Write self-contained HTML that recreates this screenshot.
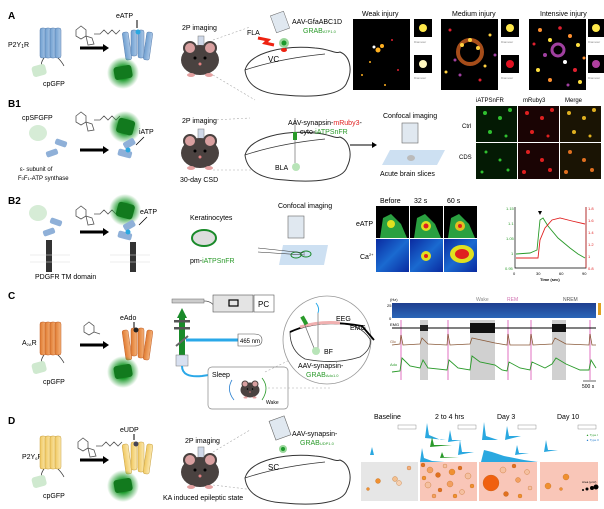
<!DOCTYPE html>
<html><head><meta charset="utf-8"><style>
html,body{margin:0;padding:0;background:#fff;}
svg{display:block;font-family:"Liberation Sans",sans-serif;}
</style></head><body>
<svg width="604" height="509" viewBox="0 0 604 509" xmlns="http://www.w3.org/2000/svg">
<defs>
<radialGradient id="glow"><stop offset="0.4" stop-color="#1a9a2a"/><stop offset="1" stop-color="#1a9a2a" stop-opacity="0"/></radialGradient>
<linearGradient id="blue" x1="0" x2="1"><stop offset="0" stop-color="#6f9fd0"/><stop offset="1" stop-color="#a9c6e6"/></linearGradient>
<linearGradient id="orng" x1="0" x2="1"><stop offset="0" stop-color="#e07a30"/><stop offset="1" stop-color="#f4b27a"/></linearGradient>
<linearGradient id="yel" x1="0" x2="1"><stop offset="0" stop-color="#f0c860"/><stop offset="1" stop-color="#fbe8b0"/></linearGradient>
<linearGradient id="spec" x1="0" y1="0" x2="0" y2="1"><stop offset="0" stop-color="#1f3f8f"/><stop offset="1" stop-color="#2a66b8"/></linearGradient>
<linearGradient id="heat" x1="0" y1="0" x2="1" y2="1"><stop offset="0" stop-color="#0a2aa0"/><stop offset="0.5" stop-color="#1a6ad0"/><stop offset="1" stop-color="#0a2aa0"/></linearGradient>
<g id="mouse"><ellipse cx="0" cy="0" rx="19" ry="15" fill="#4a4240"/><circle cx="-10" cy="-12" r="6" fill="#d9a0a0" stroke="#4a4240" stroke-width="2"/><circle cx="10" cy="-12" r="6" fill="#d9a0a0" stroke="#4a4240" stroke-width="2"/><circle cx="-5" cy="-2" r="1.5" fill="#000"/><circle cx="5" cy="-2" r="1.5" fill="#000"/><circle cx="0" cy="4" r="1.5" fill="#e08080"/><ellipse cx="-9" cy="15" rx="4" ry="2" fill="#e4a0a0"/><ellipse cx="9" cy="15" rx="4" ry="2" fill="#e4a0a0"/></g>
<g id="brain"><path d="M0,30 C5,12 40,5 70,8 C85,9 90,14 95,12 C105,16 108,30 102,42 C98,55 70,58 40,55 C20,54 2,48 0,30 Z" fill="#fff" stroke="#333" stroke-width="1"/><path d="M0,30 C30,20 60,16 80,14" fill="none" stroke="#333" stroke-width="0.8"/></g>
<g id="mol" fill="none" stroke="#555" stroke-width="0.8"><path d="M0,8 l5,-4 l5,4 l0,6 l-5,3 l-5,-3z M10,14 l6,2 l2,6 l-6,1z"/><path d="M18,12 l6,0 l4,-4 l4,4 l4,-4 l4,4 l4,-4"/></g>
</defs>
<rect width="604" height="509" fill="#fff"/>

<!-- ===== A ===== -->
<text x="8" y="19" font-size="10" font-weight="bold">A</text>
<text x="8" y="47" font-size="7">P2Y<tspan font-size="5" dy="1">1</tspan><tspan dy="-1">R</tspan></text>
<g fill="url(#blue)" stroke="#5a7fae" stroke-width="0.5">
<rect x="40" y="28" width="6" height="30" rx="2"/><rect x="45" y="28" width="6" height="30" rx="2"/><rect x="50" y="28" width="6" height="30" rx="2"/><rect x="55" y="28" width="6" height="30" rx="2"/>
</g>
<path d="M44,58 q-4,5 -2,10 M58,58 q4,4 6,8" stroke="#333" fill="none" stroke-width="0.7"/>
<rect x="32" y="65" width="14" height="11" rx="3" fill="#cfe9cf" transform="rotate(-15 39 70)"/>
<text x="43" y="86" font-size="7">cpGFP</text>
<use href="#mol" x="76" y="22"/>
<path d="M80,48 h24" stroke="#000" stroke-width="3"/><path d="M103,44 l6,4 l-6,4z" fill="#000"/>
<text x="116" y="18" font-size="7">eATP</text><path d="M137,20 v8" stroke="#000"/>
<g fill="url(#blue)" stroke="#5a7fae" stroke-width="0.5">
<rect x="124" y="32" width="6" height="28" rx="2" transform="rotate(-8 127 46)"/><rect x="131" y="30" width="6" height="26" rx="2"/><rect x="138" y="30" width="6" height="28" rx="2"/><rect x="145" y="32" width="6" height="28" rx="2" transform="rotate(8 148 46)"/>
</g>
<circle cx="138" cy="32" r="2.5" fill="#2aa8e0"/>
<circle cx="123" cy="73" r="16" fill="url(#glow)"/>
<rect x="114" y="66" width="18" height="13" rx="3" fill="#127a1e" transform="rotate(-10 123 72)"/>
<text x="182" y="30" font-size="7">2P imaging</text>
<rect x="198" y="36" width="6" height="12" fill="#cfd8e8" stroke="#777" stroke-width="0.5"/>
<use href="#mouse" x="200" y="60"/>
<path d="M213,40 L250,27 M213,75 L255,100" stroke="#aaa" stroke-dasharray="2,2" stroke-width="0.6"/>
<use href="#brain" x="245" y="40"/>
<rect x="273" y="13" width="14" height="18" fill="#e0e8f0" stroke="#666" stroke-width="0.5" transform="rotate(-20 280 22)"/>
<text x="247" y="35" font-size="7">FLA</text>
<path d="M258,38 l10,2 l-3,3 l9,2" stroke="#e21" stroke-width="3" fill="none"/>
<circle cx="284" cy="43" r="5" fill="#9ad69a"/><circle cx="284" cy="43" r="2.5" fill="#1a9a2a"/>
<ellipse cx="284" cy="50" rx="3" ry="2" fill="#e21"/>
<text x="268" y="62" font-size="8">VC</text>
<text x="292" y="24" font-size="7">AAV-GfaABC1D</text>
<text x="303" y="33" font-size="7" fill="#2a9a2a">GRAB<tspan font-size="4">ATP1.0</tspan></text>
<!-- injury images -->
<text x="362" y="16" font-size="7">Weak injury</text>
<text x="452" y="16" font-size="7">Medium injury</text>
<text x="540" y="16" font-size="7">Intensive injury</text>
<rect x="353" y="19" width="57" height="71" fill="#000"/>
<rect x="414" y="19" width="18" height="18" fill="#000"/><rect x="414" y="55" width="18" height="18" fill="#000"/>
<rect x="441" y="19" width="57" height="71" fill="#000"/>
<rect x="501" y="19" width="18" height="18" fill="#000"/><rect x="501" y="55" width="18" height="18" fill="#000"/>
<rect x="529" y="19" width="57" height="71" fill="#000"/>
<rect x="588" y="19" width="16" height="18" fill="#000"/><rect x="588" y="55" width="16" height="18" fill="#000"/>
<g font-size="3" fill="#888"><text x="414" y="43">Diameter</text><text x="414" y="79">Diameter</text><text x="501" y="43">Diameter</text><text x="501" y="79">Diameter</text><text x="588" y="43">Diameter</text><text x="588" y="79">Diameter</text></g>
<circle cx="423" cy="28" r="4" fill="#ffe84a"/><circle cx="423" cy="64" r="4" fill="#fff8c0"/>
<circle cx="510" cy="28" r="4" fill="#ffe84a"/><circle cx="510" cy="64" r="4" fill="#e01020"/>
<circle cx="596" cy="28" r="4" fill="#ffe84a"/><circle cx="596" cy="64" r="4" fill="#b040a0"/>
<g fill="#ffb020"><circle cx="378" cy="50" r="2.5"/><circle cx="382" cy="46" r="2"/><circle cx="374" cy="47" r="1.5" fill="#fff"/><circle cx="370" cy="62" r="1"/><circle cx="392" cy="40" r="1" fill="#e02030"/><circle cx="362" cy="75" r="1"/><circle cx="398" cy="70" r="1" fill="#e02030"/><circle cx="385" cy="85" r="1"/></g>
<circle cx="470" cy="52" r="12" fill="none" stroke="#d06020" stroke-width="4" opacity="0.8"/>
<g fill="#ffd040"><circle cx="462" cy="45" r="2"/><circle cx="478" cy="48" r="2"/><circle cx="470" cy="40" r="2"/><circle cx="455" cy="60" r="1.5" fill="#a040a0"/><circle cx="485" cy="66" r="1.5"/><circle cx="450" cy="30" r="1.5" fill="#e02030"/><circle cx="490" cy="35" r="1.5"/><circle cx="460" cy="75" r="1.5" fill="#a040a0"/><circle cx="480" cy="80" r="1.5" fill="#e02030"/><circle cx="495" cy="55" r="1.5" fill="#a040a0"/><circle cx="446" cy="72" r="1.5"/></g>
<g fill="#ff9030"><circle cx="540" cy="30" r="2"/><circle cx="550" cy="40" r="2" fill="#ffe040"/><circle cx="560" cy="28" r="1.8" fill="#e02030"/><circle cx="570" cy="36" r="2"/><circle cx="578" cy="45" r="2" fill="#ffe040"/><circle cx="545" cy="55" r="2" fill="#a040a0"/><circle cx="558" cy="50" r="6" fill="none" stroke="#a040a0" stroke-width="3"/><circle cx="565" cy="62" r="2" fill="#fff"/><circle cx="575" cy="70" r="2" fill="#e02030"/><circle cx="538" cy="70" r="2" fill="#ffe040"/><circle cx="550" cy="80" r="2"/><circle cx="580" cy="82" r="2" fill="#ffe040"/><circle cx="534" cy="44" r="1.5" fill="#e02030"/><circle cx="568" cy="85" r="1.5" fill="#a040a0"/><circle cx="584" cy="58" r="1.5"/></g>

<!-- ===== B1 ===== -->
<text x="8" y="107" font-size="10" font-weight="bold">B1</text>
<text x="22" y="120" font-size="7">cpSFGFP</text>
<ellipse cx="38" cy="133" rx="9" ry="8" fill="#d6ecd6"/>
<rect x="55" y="140" width="12" height="6" rx="2" fill="#8fb0d8" transform="rotate(20 61 143)"/>
<rect x="46" y="150" width="12" height="6" rx="2" fill="#8fb0d8" transform="rotate(-20 52 153)"/>
<text x="20" y="171" font-size="6">ε- subunit of</text>
<text x="18" y="180" font-size="6">F<tspan font-size="4">0</tspan>F<tspan font-size="4">1</tspan>-ATP synthase</text>
<use href="#mol" x="76" y="108"/>
<path d="M80,150 h24" stroke="#000" stroke-width="3"/><path d="M103,146 l6,4 l-6,4z" fill="#000"/>
<circle cx="125" cy="127" r="16" fill="url(#glow)"/>
<rect x="117" y="119" width="17" height="15" rx="3" fill="#127a1e" transform="rotate(15 125 127)"/>
<rect x="123" y="140" width="12" height="7" rx="2" fill="#8fb0d8" transform="rotate(-30 129 143)"/>
<rect x="118" y="150" width="14" height="7" rx="2" fill="#8fb0d8" transform="rotate(15 125 153)"/>
<circle cx="128" cy="150" r="2.5" fill="#2aa8e0"/>
<text x="139" y="134" font-size="7">iATP</text><path d="M144,137 l-8,8" stroke="#000" stroke-width="0.8"/>
<text x="182" y="123" font-size="7">2P imaging</text>
<rect x="198" y="129" width="6" height="12" fill="#cfd8e8" stroke="#777" stroke-width="0.5"/>
<use href="#mouse" x="200" y="153"/>
<text x="180" y="182" font-size="7">30-day CSD</text>
<path d="M213,120 L250,118 M213,170 L255,170" stroke="#aaa" stroke-dasharray="2,2" stroke-width="0.6"/>
<use href="#brain" x="245" y="125"/>
<path d="M295,118 v45" stroke="#555" stroke-width="0.6"/><rect x="293" y="132" width="4" height="8" fill="#2a9a2a"/>
<circle cx="296" cy="167" r="4" fill="#b8e4b8"/>
<text x="275" y="170" font-size="7">BLA</text>
<text x="288" y="125" font-size="7">AAV-synapsin-<tspan fill="#e02020">mRuby3</tspan>-</text>
<text x="300" y="134" font-size="7">cyto-<tspan fill="#2a9a2a">iATPSnFR</tspan></text>
<path d="M350,145 h22" stroke="#000" stroke-width="1"/><path d="M372,142 l5,3 l-5,3z" fill="#000"/>
<text x="383" y="118" font-size="7">Confocal imaging</text>
<rect x="402" y="123" width="16" height="20" fill="#e0e8f0" stroke="#666" stroke-width="0.6"/>
<path d="M390,150 h55 l-8,15 h-55z" fill="#cde0f2"/>
<ellipse cx="411" cy="158" rx="4" ry="3" fill="#bbb"/>
<text x="380" y="176" font-size="7">Acute brain slices</text>
<text x="476" y="102" font-size="6">iATPSnFR</text><text x="523" y="102" font-size="6">mRuby3</text><text x="565" y="102" font-size="6">Merge</text>
<text x="462" y="128" font-size="6">Ctrl</text><text x="459" y="159" font-size="6">CDS</text>
<rect x="476" y="106" width="41" height="36" fill="#041a04"/><rect x="518" y="106" width="41" height="36" fill="#1a0404"/><rect x="560" y="106" width="41" height="36" fill="#1a1404"/>
<rect x="476" y="143" width="41" height="36" fill="#041a04"/><rect x="518" y="143" width="41" height="36" fill="#1a0404"/><rect x="560" y="143" width="41" height="36" fill="#1a1404"/>
<g fill="#30c030"><circle cx="485" cy="113" r="2"/><circle cx="500" cy="118" r="2"/><circle cx="510" cy="110" r="2"/><circle cx="490" cy="132" r="2"/><circle cx="506" cy="136" r="1.5"/><circle cx="486" cy="152" r="1.5"/><circle cx="500" cy="160" r="1.5"/><circle cx="508" cy="170" r="1.5"/><circle cx="482" cy="172" r="1.5"/></g>
<g fill="#e02020"><circle cx="527" cy="113" r="2"/><circle cx="542" cy="118" r="2"/><circle cx="552" cy="110" r="2"/><circle cx="532" cy="132" r="2"/><circle cx="548" cy="136" r="1.5"/><circle cx="528" cy="152" r="2"/><circle cx="542" cy="160" r="2"/><circle cx="550" cy="170" r="2"/><circle cx="524" cy="172" r="2"/></g>
<g fill="#e0b020"><circle cx="569" cy="113" r="2"/><circle cx="584" cy="118" r="2"/><circle cx="594" cy="110" r="2"/><circle cx="574" cy="132" r="2"/><circle cx="590" cy="136" r="1.5"/></g>
<g fill="#e07020"><circle cx="570" cy="152" r="2"/><circle cx="584" cy="160" r="2"/><circle cx="592" cy="170" r="2"/><circle cx="566" cy="172" r="2"/></g>

<!-- ===== B2 ===== -->
<text x="8" y="204" font-size="10" font-weight="bold">B2</text>
<ellipse cx="38" cy="213" rx="9" ry="8" fill="#d6ecd6"/>
<rect x="50" y="219" width="12" height="6" rx="2" fill="#8fb0d8" transform="rotate(20 56 222)"/>
<rect x="43" y="229" width="12" height="6" rx="2" fill="#8fb0d8" transform="rotate(-20 49 232)"/>
<rect x="46" y="240" width="6" height="32" fill="#333"/><path d="M30,255 h40 M30,262 h40" stroke="#ddd" stroke-width="0.6"/>
<use href="#mol" x="76" y="202"/>
<path d="M80,232 h24" stroke="#000" stroke-width="3"/><path d="M103,228 l6,4 l-6,4z" fill="#000"/>
<circle cx="125" cy="210" r="16" fill="url(#glow)"/>
<rect x="117" y="203" width="17" height="15" rx="3" fill="#127a1e" transform="rotate(15 125 210)"/>
<rect x="123" y="222" width="12" height="7" rx="2" fill="#8fb0d8" transform="rotate(-30 129 225)"/>
<rect x="118" y="232" width="14" height="7" rx="2" fill="#8fb0d8" transform="rotate(15 125 235)"/>
<circle cx="128" cy="232" r="2.5" fill="#2aa8e0"/>
<rect x="130" y="242" width="6" height="30" fill="#333"/><path d="M110,255 h40 M110,262 h40" stroke="#ddd" stroke-width="0.6"/>
<text x="140" y="214" font-size="7">eATP</text><path d="M147,217 l-8,8" stroke="#000" stroke-width="0.8"/>
<text x="35" y="279" font-size="7">PDGFR TM domain</text>
<text x="190" y="220" font-size="7">Keratinocytes</text>
<ellipse cx="204" cy="238" rx="12" ry="8" fill="#ddd" stroke="#1a8a2a" stroke-width="2"/>
<text x="190" y="263" font-size="7">pm-<tspan fill="#2a9a2a">iATPSnFR</tspan></text>
<text x="278" y="208" font-size="7">Confocal imaging</text>
<rect x="288" y="216" width="16" height="22" fill="#e0e8f0" stroke="#666" stroke-width="0.6"/>
<path d="M283,245 h45 l-4,20 h-45z" fill="#cde0f2"/>
<ellipse cx="296" cy="255" rx="5" ry="3" fill="none" stroke="#1a8a2a"/><ellipse cx="306" cy="254" rx="5" ry="3" fill="none" stroke="#1a8a2a"/>
<path d="M258,248 L305,253 M258,252 L305,255" stroke="#333" stroke-width="0.6"/>
<text x="380" y="203" font-size="7">Before</text><text x="414" y="203" font-size="7">32 s</text><text x="447" y="203" font-size="7">60 s</text>
<text x="356" y="226" font-size="7">eATP</text><text x="360" y="259" font-size="7">Ca<tspan font-size="4" dy="-3">2+</tspan></text>
<g>
<rect x="376" y="206" width="33" height="32" fill="#000"/><rect x="410" y="206" width="33" height="32" fill="#000"/><rect x="444" y="206" width="33" height="32" fill="#000"/>
<path d="M380,238 l3,-20 l8,-4 l10,10 l6,14z" fill="#2aa040"/><circle cx="391" cy="224" r="4" fill="#e0e020"/>
<path d="M414,238 l3,-20 l8,-4 l10,10 l6,14z" fill="#2aa040"/><circle cx="426" cy="226" r="5" fill="#e0e020"/><circle cx="426" cy="226" r="2.5" fill="#e02020"/>
<path d="M448,238 l3,-20 l8,-4 l10,10 l6,14z" fill="#2aa040"/><circle cx="460" cy="226" r="5" fill="#e0c020"/><circle cx="460" cy="226" r="2" fill="#e02020"/>
<rect x="376" y="239" width="33" height="33" fill="url(#heat)"/><rect x="410" y="239" width="33" height="33" fill="url(#heat)"/><rect x="444" y="239" width="33" height="33" fill="url(#heat)"/>
<circle cx="426" cy="256" r="5" fill="#e0e020"/><circle cx="426" cy="256" r="2" fill="#e02020"/>
<ellipse cx="462" cy="254" rx="12" ry="9" fill="#e0e020"/><ellipse cx="462" cy="254" rx="7" ry="5" fill="#e02020"/>
</g>
<!-- graph -->
<path d="M515,207 V268 H586 V207" fill="none" stroke="#000" stroke-width="0.7"/>
<path d="M586,207 V268" stroke="#e02020" stroke-width="0.7"/>
<g font-size="4" fill="#2a9a2a"><text x="506" y="210">1.15</text><text x="508" y="225">1.1</text><text x="506" y="240">1.05</text><text x="511" y="255">1</text><text x="505" y="270">0.95</text></g>
<g font-size="4" fill="#e02020"><text x="588" y="210">1.8</text><text x="588" y="222">1.6</text><text x="588" y="234">1.4</text><text x="588" y="246">1.2</text><text x="588" y="258">1</text><text x="588" y="270">0.8</text></g>
<g font-size="4"><text x="513" y="275">0</text><text x="536" y="275">30</text><text x="559" y="275">60</text><text x="582" y="275">90</text><text x="540" y="281" font-weight="bold">Time (sec)</text></g>
<path d="M538,211 l4,0 l-2,4z" fill="#000"/>
<path d="M516,254 L530,253 L537,250 L540,220 L543,218 L548,226 L558,238 L570,248 L578,254 L585,258" fill="none" stroke="#2a9a2a" stroke-width="0.9"/>
<path d="M516,258 L538,258 L540,240 L545,228 L552,220 L560,218 L572,221 L585,224" fill="none" stroke="#e02020" stroke-width="0.9"/>

<!-- ===== C ===== -->
<text x="8" y="299" font-size="10" font-weight="bold">C</text>
<text x="22" y="345" font-size="7">A<tspan font-size="4" dy="1">2A</tspan><tspan dy="-1">R</tspan></text>
<g fill="url(#orng)" stroke="#c0602a" stroke-width="0.5">
<rect x="40" y="322" width="6" height="33" rx="2"/><rect x="45" y="322" width="6" height="33" rx="2"/><rect x="50" y="322" width="6" height="33" rx="2"/><rect x="55" y="322" width="6" height="33" rx="2"/>
</g>
<path d="M44,355 q-4,5 -2,10 M58,355 q4,4 6,8" stroke="#333" fill="none" stroke-width="0.7"/>
<rect x="32" y="362" width="14" height="11" rx="3" fill="#cfe9cf" transform="rotate(-15 39 367)"/>
<text x="43" y="384" font-size="7">cpGFP</text>
<path d="M84,326 l5,-4 l5,4 l0,6 l-5,3 l-5,-3z M94,332 l6,2" fill="none" stroke="#555" stroke-width="0.8"/>
<path d="M80,345 h24" stroke="#000" stroke-width="3"/><path d="M103,341 l6,4 l-6,4z" fill="#000"/>
<text x="120" y="320" font-size="7">eAdo</text><path d="M134,322 v6" stroke="#000"/>
<g fill="url(#orng)" stroke="#c0602a" stroke-width="0.5">
<rect x="124" y="330" width="6" height="30" rx="2" transform="rotate(-8 127 345)"/><rect x="131" y="328" width="6" height="28" rx="2"/><rect x="138" y="328" width="6" height="30" rx="2"/><rect x="145" y="330" width="6" height="30" rx="2" transform="rotate(8 148 345)"/>
</g>
<circle cx="136" cy="330" r="2.5" fill="#222"/>
<circle cx="123" cy="372" r="16" fill="url(#glow)"/>
<rect x="114" y="365" width="18" height="13" rx="3" fill="#127a1e" transform="rotate(-10 123 371)"/>
<!-- setup -->
<rect x="172" y="299" width="32" height="4" fill="#ccc" stroke="#666" stroke-width="0.5"/>
<path d="M204,301 q10,0 12,10 h8" fill="none" stroke="#555" stroke-width="0.7"/>
<rect x="213" y="295" width="40" height="17" fill="#e4e4e4" stroke="#555" stroke-width="0.6"/>
<rect x="229" y="300" width="9" height="6" fill="none" stroke="#000" stroke-width="1.2"/>
<rect x="254" y="295" width="20" height="17" fill="#fff" stroke="#555" stroke-width="0.6"/><text x="258" y="307" font-size="8">PC</text>
<path d="M177,318 l5,-10 l5,10z" fill="#1a8a2a"/><rect x="179" y="315" width="6" height="40" fill="#1a8a2a"/>
<rect x="174" y="320" width="16" height="2.5" fill="#555"/><rect x="174" y="327" width="16" height="2.5" fill="#555"/>
<path d="M176,346 l12,-10" stroke="#666" stroke-width="2"/>
<path d="M186,340 H238" stroke="#2aa8e8" stroke-width="3"/>
<path d="M238,334 h16 q8,0 8,6 q0,6 -8,6 h-16z" fill="#fff" stroke="#555" stroke-width="0.6"/><text x="240" y="343" font-size="6">465 nm</text>
<rect x="176" y="355" width="12" height="11" fill="#d8e0f0" stroke="#777" stroke-width="0.5"/>
<path d="M182,366 q0,12 20,10 q40,-6 55,-8 q8,0 8,10" fill="none" stroke="#2aa8e8" stroke-width="2"/>
<rect x="208" y="367" width="80" height="42" rx="4" fill="#fff" stroke="#888" stroke-width="0.7"/>
<text x="212" y="377" font-size="7">Sleep</text><text x="266" y="404" font-size="5">Wake</text>
<use href="#mouse" x="250" y="390" transform="translate(125,195) scale(0.5)"/>
<path d="M232,380 q-6,10 2,20" fill="none" stroke="#2a80d0" stroke-width="0.8"/><path d="M262,378 q8,10 0,22" fill="none" stroke="#2a9a2a" stroke-width="0.8"/>
<path d="M268,388 H330 M265,372 L300,355" stroke="#aaa" stroke-dasharray="2,2" stroke-width="0.6"/>
<circle cx="327" cy="340" r="44" fill="#fff" stroke="#999" stroke-width="0.8"/>
<path d="M290,332 q20,-10 50,-8 q20,0 30,15 q2,10 -10,18 q-25,8 -55,2 q-15,-8 -15,-27z" fill="#fff" stroke="#333" stroke-width="0.8"/>
<path d="M290,332 q30,-14 72,-6 l12,14" fill="none" stroke="#000" stroke-width="1.8"/>
<path d="M300,327 q20,-6 40,-4" fill="none" stroke="#f0b0b0" stroke-width="3"/>
<path d="M316,303 q4,5 2,10 v38" fill="none" stroke="#2aa8e8" stroke-width="1"/><path d="M318,313 v40" stroke="#999"/>
<path d="M302,318 l12,30" stroke="#666" stroke-width="0.7"/><rect x="302" y="316" width="4" height="9" fill="#2a9a2a" transform="rotate(-30 304 320)"/>
<circle cx="316" cy="351" r="4" fill="#b8e4b8"/>
<text x="324" y="354" font-size="7">BF</text>
<text x="336" y="321" font-size="7">EEG</text><text x="350" y="330" font-size="7">EMG</text>
<text x="298" y="368" font-size="7">AAV-synapsin-</text>
<text x="306" y="377" font-size="7" fill="#2a9a2a">GRAB<tspan font-size="4">Ado1.0</tspan></text>
<!-- traces -->
<text x="390" y="301" font-size="4">(Hz)</text><text x="387" y="307" font-size="4">25</text><text x="389" y="320" font-size="4">0</text>
<text x="476" y="301" font-size="5" fill="#888">Wake</text><text x="507" y="301" font-size="5" fill="#d070b0">REM</text><text x="563" y="301" font-size="5" fill="#555">NREM</text>
<rect x="392" y="303" width="204" height="15" fill="url(#spec)"/>
<rect x="598" y="303" width="3" height="12" fill="#e0a020"/>
<g fill="#d0d0d0"><rect x="420" y="320" width="8" height="60"/><rect x="470" y="320" width="25" height="60"/><rect x="552" y="320" width="14" height="60"/></g>
<g fill="#f0b8e0"><rect x="400" y="320" width="2" height="60"/><rect x="447" y="320" width="2" height="60"/><rect x="507" y="320" width="2" height="60"/><rect x="530" y="320" width="2" height="60"/><rect x="589" y="320" width="2" height="60"/></g>
<text x="390" y="326" font-size="4">EMG</text><text x="390" y="343" font-size="4" fill="#8a5a3a">Glc</text><text x="390" y="366" font-size="4" fill="#2a9a2a">Ado</text>
<path d="M392,328 H596" stroke="#000" stroke-width="1"/>
<rect x="420" y="325" width="8" height="6" fill="#222"/><rect x="470" y="323" width="25" height="10" fill="#111"/><rect x="552" y="324" width="14" height="8" fill="#111"/>
<path d="M392,345 L400,344 L401,335 L403,345 L420,344 L422,338 L428,344 L447,345 L448,334 L450,345 L470,344 L472,338 L495,343 L507,345 L508,334 L510,345 L530,345 L531,334 L533,345 L552,344 L555,338 L566,344 L589,345 L590,334 L592,345 L596,345" fill="none" stroke="#8a5a3a" stroke-width="0.8"/>
<path d="M392,372 L400,371 L402,358 L410,366 L420,368 L423,360 L428,368 L447,370 L449,360 L458,368 L470,370 L472,356 L480,362 L495,365 L502,370 L507,371 L509,362 L520,368 L530,370 L532,362 L545,368 L552,364 L556,358 L566,364 L580,370 L589,370 L591,360 L596,368" fill="none" stroke="#2a9a2a" stroke-width="0.9"/>
<path d="M583,381 H596" stroke="#000" stroke-width="0.6"/><text x="582" y="388" font-size="5">500 s</text>

<!-- ===== D ===== -->
<text x="8" y="424" font-size="10" font-weight="bold">D</text>
<text x="22" y="459" font-size="7">P2Y<tspan font-size="4" dy="1">6</tspan><tspan dy="-1">R</tspan></text>
<g fill="url(#yel)" stroke="#c8a040" stroke-width="0.5">
<rect x="40" y="436" width="6" height="33" rx="2"/><rect x="45" y="436" width="6" height="33" rx="2"/><rect x="50" y="436" width="6" height="33" rx="2"/><rect x="55" y="436" width="6" height="33" rx="2"/>
</g>
<path d="M44,469 q-4,5 -2,10 M58,469 q4,4 6,8" stroke="#333" fill="none" stroke-width="0.7"/>
<rect x="32" y="476" width="14" height="11" rx="3" fill="#cfe9cf" transform="rotate(-15 39 481)"/>
<text x="43" y="498" font-size="7">cpGFP</text>
<use href="#mol" x="78" y="434"/>
<path d="M80,460 h24" stroke="#000" stroke-width="3"/><path d="M103,456 l6,4 l-6,4z" fill="#000"/>
<text x="120" y="432" font-size="7">eUDP</text><path d="M134,434 v6" stroke="#000"/>
<g fill="url(#yel)" stroke="#c8a040" stroke-width="0.5">
<rect x="124" y="444" width="6" height="30" rx="2" transform="rotate(-8 127 459)"/><rect x="131" y="442" width="6" height="28" rx="2"/><rect x="138" y="442" width="6" height="30" rx="2"/><rect x="145" y="444" width="6" height="30" rx="2" transform="rotate(8 148 459)"/>
</g>
<circle cx="136" cy="444" r="2.5" fill="#445"/>
<circle cx="123" cy="486" r="16" fill="url(#glow)"/>
<rect x="114" y="479" width="18" height="13" rx="3" fill="#127a1e" transform="rotate(-10 123 485)"/>
<text x="185" y="443" font-size="7">2P imaging</text>
<rect x="198" y="447" width="6" height="12" fill="#cfd8e8" stroke="#777" stroke-width="0.5"/>
<use href="#mouse" x="200" y="472"/>
<text x="163" y="500" font-size="7">KA induced epileptic state</text>
<path d="M213,452 L250,430 M213,485 L255,490" stroke="#aaa" stroke-dasharray="2,2" stroke-width="0.6"/>
<use href="#brain" x="245" y="448"/>
<rect x="272" y="418" width="16" height="20" fill="#e0e8f0" stroke="#666" stroke-width="0.6" transform="rotate(-20 280 428)"/>
<circle cx="283" cy="449" r="4" fill="#9ad69a"/><circle cx="283" cy="449" r="2" fill="#1a9a2a"/>
<text x="268" y="470" font-size="8">SC</text>
<text x="292" y="436" font-size="7">AAV-synapsin-</text>
<text x="300" y="445" font-size="7" fill="#2a9a2a">GRAB<tspan font-size="4">UDP1.0</tspan></text>
<text x="374" y="419" font-size="7">Baseline</text><text x="435" y="419" font-size="7">2 to 4 hrs</text><text x="497" y="419" font-size="7">Day 3</text><text x="557" y="419" font-size="7">Day 10</text>
<g fill="#fff" stroke="#777" stroke-width="0.4"><rect x="398" y="425" width="18" height="4"/><rect x="458" y="425" width="18" height="4"/><rect x="518" y="425" width="18" height="4"/><rect x="578" y="425" width="18" height="4"/></g>
<g fill="#2aa8e0">
<path d="M370,455 l2,-8 l2,8 h10z"/>
<path d="M425,438 l2,-15 l2,12 l12,5 h5z"/><path d="M448,442 l2,-12 l2,10 h10z"/>
<path d="M420,462 l2,-14 l2,10 l8,3 l25,2 h15z"/><path d="M458,455 l2,-15 l2,12 h12z"/>
<path d="M482,440 l2,-18 l2,14 l12,4z"/><path d="M505,440 l2,-14 l2,10 h12z"/>
<path d="M481,462 l3,-12 l8,2 l12,4 l20,4 l14,2z"/><path d="M515,455 l2,-10 l2,8 h10z"/>
<path d="M544,452 l2,-12 l2,10 h10z"/>
</g>
<g fill="#2a9a2a"><path d="M430,447 l2,-10 l2,8 h18z"/><path d="M440,458 l2,-6 l2,5 h15z"/></g>
<text x="586" y="436" font-size="3" fill="#2a9a2a">▲ Type I</text><text x="586" y="441" font-size="3" fill="#2a80d0">▲ Type II</text>
<rect x="361" y="462" width="57" height="39" fill="#e6e6e6"/>
<rect x="420" y="462" width="57" height="39" fill="#f9c6b8"/>
<rect x="479" y="462" width="58" height="39" fill="#f9c6b8"/>
<rect x="540" y="462" width="58" height="39" fill="#f9c6b8"/>
<g stroke="#b86010" stroke-width="0.3">
<circle cx="378" cy="481" r="2.5" fill="#f09030"/><circle cx="395" cy="479" r="2.5" fill="#f3c090"/><circle cx="399" cy="483" r="2.5" fill="#f7d0b0"/><circle cx="409" cy="468" r="2" fill="#f3b080"/><circle cx="368" cy="489" r="1.5" fill="#f09030"/>
<circle cx="423" cy="465" r="2" fill="#e07020"/><circle cx="430" cy="470" r="3" fill="#f3a060"/><circle cx="438" cy="475" r="2.5" fill="#e07020"/><circle cx="445" cy="466" r="2" fill="#f5c0a0"/><circle cx="452" cy="472" r="3" fill="#f09030"/><circle cx="460" cy="468" r="2" fill="#e07020"/><circle cx="468" cy="476" r="3" fill="#f5c0a0"/><circle cx="428" cy="485" r="3" fill="#f5c0a0"/><circle cx="440" cy="490" r="2" fill="#e07020"/><circle cx="450" cy="484" r="3" fill="#f3a060"/><circle cx="462" cy="492" r="2.5" fill="#f5c0a0"/><circle cx="472" cy="486" r="2" fill="#f09030"/><circle cx="434" cy="496" r="2" fill="#f3a060"/><circle cx="455" cy="496" r="2" fill="#f09030"/><circle cx="424" cy="478" r="2" fill="#f09030"/>
<circle cx="491" cy="483" r="8" fill="#f06010"/><circle cx="503" cy="470" r="3" fill="#f5c0a0"/><circle cx="514" cy="466" r="2" fill="#e07020"/><circle cx="518" cy="480" r="2.5" fill="#f3a060"/><circle cx="527" cy="472" r="2.5" fill="#f5c0a0"/><circle cx="506" cy="494" r="2.5" fill="#e07020"/><circle cx="530" cy="488" r="2" fill="#f5c0a0"/><circle cx="520" cy="496" r="2" fill="#f09030"/>
<circle cx="566" cy="477" r="3" fill="#f09030"/><circle cx="548" cy="486" r="3" fill="#f09030"/><circle cx="561" cy="489" r="1.5" fill="#f09030"/>
</g>
<g fill="#000"><circle cx="583" cy="490" r="1"/><circle cx="587" cy="489" r="1.5"/><circle cx="592" cy="488" r="2"/><circle cx="596" cy="487" r="2.5"/></g>
<text x="582" y="483" font-size="3">Area (μm²)</text>
</svg>
</body></html>
